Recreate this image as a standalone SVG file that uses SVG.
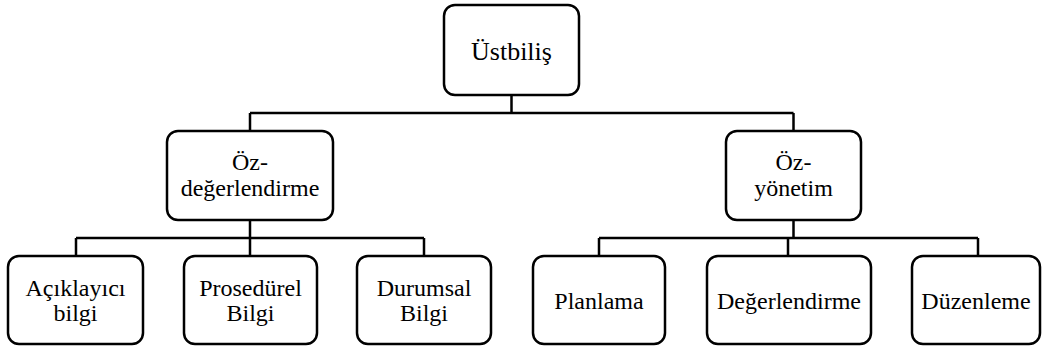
<svg xmlns="http://www.w3.org/2000/svg" width="1042" height="349" viewBox="0 0 1042 349">
<style>
.box{fill:#fff;stroke:#000;stroke-width:2.5}
.lbl{font-size:24px;fill:#000;text-anchor:middle}
.con{fill:none;stroke:#000;stroke-width:2.5}
</style>
<rect width="1042" height="349" fill="#fff"/>
<g id="connectors">
<path class="con" d="M511.5 95V113M250 113H793.5M250 113V131M793.5 113V131"/>
<path class="con" d="M250 220V238M76 238H424M76 238V256M250 238V256M424 238V256"/>
<path class="con" d="M793.5 220V238M599 238H978M599 238V256M788 238V256M978 238V256"/>
</g>
<g id="n-ustbilis"><rect class="box" x="444" y="5" width="135" height="90" rx="11"/><text class="lbl" style="font-family:'Liberation Serif',serif;font-size:26px" x="511.5" y="60">Üstbiliş</text></g>
<g id="n-ozdeg"><rect class="box" x="167" y="131" width="166" height="89" rx="11"/><text class="lbl" style="font-family:'Liberation Serif',serif" x="250" y="170">Öz-</text><text class="lbl" style="font-family:'Liberation Serif',serif" x="250" y="196">değerlendirme</text></g>
<g id="n-ozyon"><rect class="box" x="726" y="131" width="135" height="89" rx="11"/><text class="lbl" style="font-family:'Liberation Serif',serif" x="793.5" y="170">Öz-</text><text class="lbl" style="font-family:'Liberation Serif',serif" x="793.5" y="196">yönetim</text></g>
<g id="n-acik"><rect class="box" x="8" y="256" width="135" height="88" rx="11"/><text class="lbl" style="font-family:'Liberation Serif',serif" x="75.5" y="296">Açıklayıcı</text><text class="lbl" style="font-family:'Liberation Serif',serif" x="75.5" y="321">bilgi</text></g>
<g id="n-pros"><rect class="box" x="184" y="256" width="133" height="88" rx="11"/><text class="lbl" style="font-family:'Liberation Serif',serif" x="250.5" y="296">Prosedürel</text><text class="lbl" style="font-family:'Liberation Serif',serif" x="250.5" y="321">Bilgi</text></g>
<g id="n-durum"><rect class="box" x="357" y="256" width="134" height="88" rx="11"/><text class="lbl" style="font-family:'Liberation Serif',serif" x="424" y="296">Durumsal</text><text class="lbl" style="font-family:'Liberation Serif',serif" x="424" y="321">Bilgi</text></g>
<g id="n-plan"><rect class="box" x="533" y="256" width="132" height="88" rx="11"/><text class="lbl" style="font-family:'Liberation Serif',serif" x="599" y="309">Planlama</text></g>
<g id="n-deg"><rect class="box" x="707" y="256" width="164" height="88" rx="11"/><text class="lbl" style="font-family:'Liberation Serif',serif" x="789" y="309">Değerlendirme</text></g>
<g id="n-duz"><rect class="box" x="912" y="256" width="128" height="88" rx="11"/><text class="lbl" style="font-family:'Liberation Serif',serif" x="976" y="309">Düzenleme</text></g>
</svg>
